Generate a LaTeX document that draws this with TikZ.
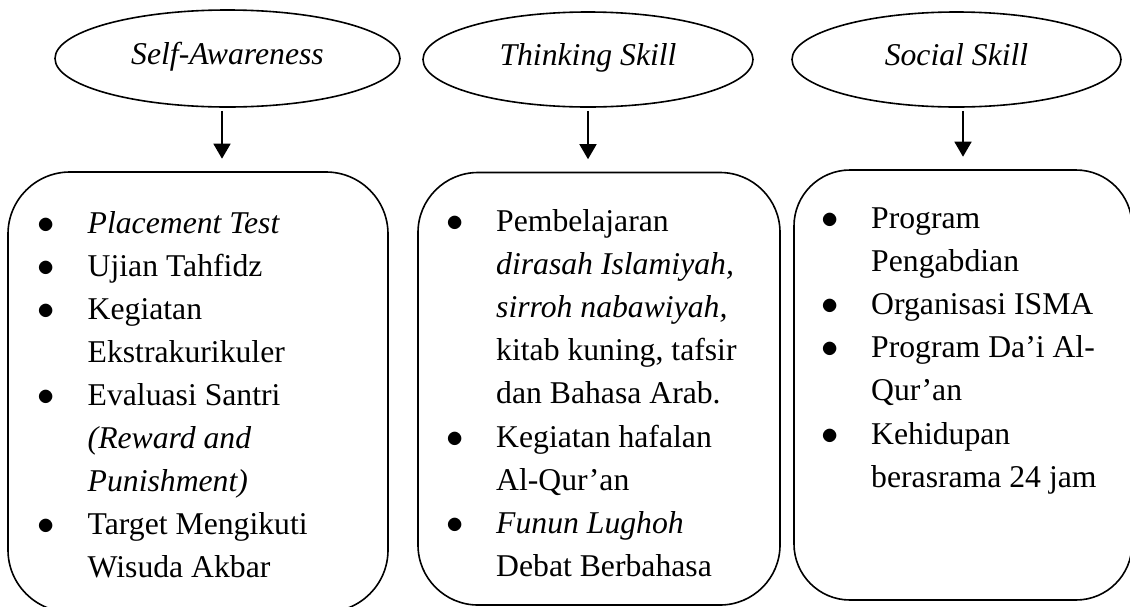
\documentclass[tikz,border=0pt]{standalone}
\usepackage{fontspec}
\setmainfont{Liberation Serif}
\usepackage{tikz}
\usetikzlibrary{shapes.geometric, arrows.meta}
\newcommand{\boxfont}{\fontsize{15.85}{21.55}\selectfont}
\newcommand{\bul}{\makebox[24.85pt][l]{$\bullet$}}

\begin{document}
\begin{tikzpicture}[x=0.5pt, y=-0.5pt,
    goal/.style={draw, ellipse, line width=0.8pt, inner sep=0pt,
        text height=11pt, text depth=5.5pt, font=\boxfont\itshape},
    progbox/.style={draw, rectangle, line width=0.8pt, inner sep=0pt},
    itemlist/.style={anchor=base west, inner sep=0pt, font=\boxfont},
    arr/.style={line width=0.8pt, -{Triangle[width=8.5pt, length=7.5pt]},
        shorten <=1.5pt, shorten >=6.25pt}]
    \useasboundingbox (0,0) rectangle (1130,606);

    % ASPECTS
    \foreach \x/\y/\w/\h/\n/\t in {
        227.5/58.5/172.5pt/48.5pt/aware/Self-Awareness,
        588/59.5/165pt/47.5pt/think/Thinking Skill,
        956.5/59.5/164.5pt/47.5pt/social/Social Skill}
        \node[goal, minimum width=\w, minimum height=\h] (\n) at (\x,\y) {\t};

    % PROGRAM BOXES
    \node[progbox, rounded corners=31pt, minimum width=190pt, minimum height=220pt]
        (awarebox) at (198,392) {};
    \node[progbox, rounded corners=30pt, minimum width=181pt, minimum height=216.25pt]
        (thinkbox) at (599,388.75) {};
    \node[progbox, rounded corners=28pt, minimum width=169pt, minimum height=215pt]
        (socialbox) at (963,385) {};

    \foreach \n/\s in {aware/-2.75pt, think/0pt, social/3.25pt}
        \draw[arr] ([xshift=\s]\n.south) -- ([xshift=\s]\n.south |- \n box.north);

    % ITEMS
    \node[itemlist] (awareitems) at (37.6,233) {\begin{tabular}[t]{@{}l@{}l@{}}
        \bul & \textit{Placement Test}\\
        \bul & Ujian Tahfidz\\
        \bul & Kegiatan\\
             & Ekstrakurikuler\\
        \bul & Evaluasi Santri\\
             & \textit{(Reward and}\\
             & \textit{Punishment)}\\
        \bul & Target Mengikuti\\
             & Wisuda Akbar
    \end{tabular}};
    \node[itemlist] (thinkitems) at (446.1,231.5) {\begin{tabular}[t]{@{}l@{}l@{}}
        \bul & Pembelajaran\\
             & \textit{dirasah Islamiyah,}\\
             & \textit{sirroh nabawiyah,}\\
             & kitab kuning, tafsir\\
             & dan Bahasa Arab.\\
        \bul & Kegiatan hafalan\\
             & Al-Qur’an\\
        \bul & \textit{Funun Lughoh}\\
             & Debat Berbahasa
    \end{tabular}};
    \node[itemlist] (socialitems) at (821.1,228.5) {\begin{tabular}[t]{@{}l@{}l@{}}
        \bul & Program\\
             & Pengabdian\\
        \bul & Organisasi ISMA\\
        \bul & Program Da’i Al-\\
             & Qur’an\\
        \bul & Kehidupan\\
             & berasrama 24 jam
    \end{tabular}};
\end{tikzpicture}
\end{document}
